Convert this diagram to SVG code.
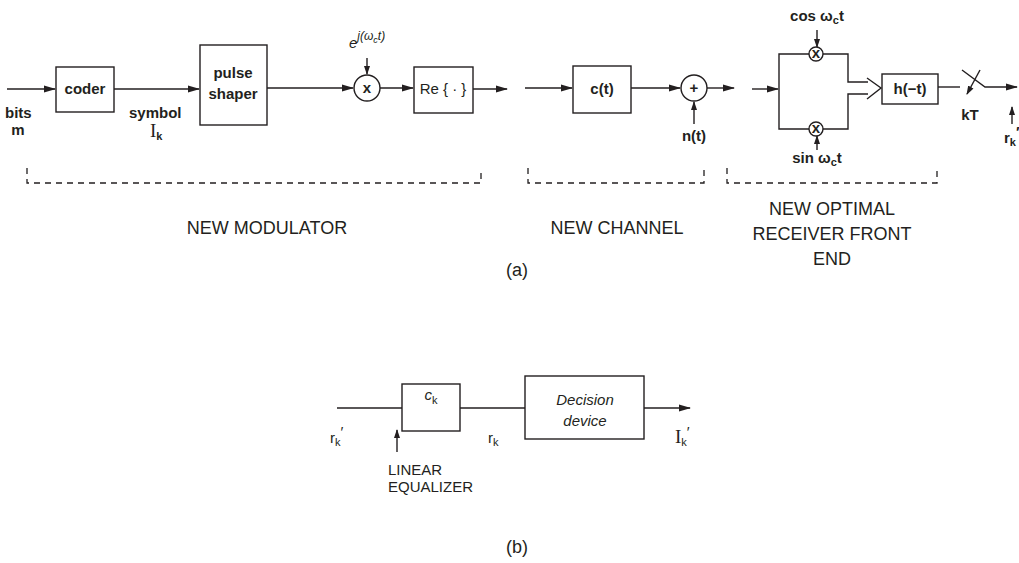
<svg xmlns="http://www.w3.org/2000/svg" width="1019" height="563" viewBox="0 0 1019 563">
<defs>
<marker id="arr" markerWidth="12" markerHeight="8" refX="11" refY="4" orient="auto" markerUnits="userSpaceOnUse">
<path d="M0,0.5 L12,4 L0,7.5 Z" fill="#231f20"/>
</marker>
<marker id="arrs" markerWidth="9" markerHeight="7" refX="8" refY="3.5" orient="auto" markerUnits="userSpaceOnUse">
<path d="M0,0.5 L9,3.5 L0,6.5 Z" fill="#231f20"/>
</marker>
<style>
.ln{stroke:#231f20;stroke-width:1.4;fill:none}
.bx{stroke:#231f20;stroke-width:1.4;fill:#fff}
.ds{stroke:#231f20;stroke-width:1.3;fill:none;stroke-dasharray:6,5}
.t{font-family:"Liberation Sans",Arial,sans-serif;font-weight:bold;font-size:15px;fill:#231f20}
.c{text-anchor:middle}
.g{font-family:"Liberation Sans",Arial,sans-serif;font-size:18px;fill:#231f20;text-anchor:middle}
.r{font-family:"Liberation Sans",Arial,sans-serif;font-size:15px;fill:#231f20}
.s{font-family:"Liberation Serif","Times New Roman",serif;font-size:19px;fill:#231f20}
.sub{font-size:11px}
</style>
</defs>

<g id="connectors">
<line class="ln" x1="7" y1="89" x2="55" y2="89" marker-end="url(#arr)"/>
<line class="ln" x1="114" y1="89" x2="199" y2="89" marker-end="url(#arr)"/>
<line class="ln" x1="267" y1="88" x2="353" y2="88" marker-end="url(#arr)"/>
<line class="ln" x1="367" y1="58" x2="367" y2="74" marker-end="url(#arrs)"/>
<line class="ln" x1="380" y1="88" x2="413" y2="88" marker-end="url(#arr)"/>
<line class="ln" x1="473" y1="89" x2="507" y2="89" marker-end="url(#arr)"/>
<line class="ln" x1="525" y1="88" x2="572" y2="88" marker-end="url(#arr)"/>
<line class="ln" x1="631" y1="88" x2="680" y2="88" marker-end="url(#arr)"/>
<line class="ln" x1="694" y1="124" x2="694" y2="102" marker-end="url(#arrs)"/>
<line class="ln" x1="707" y1="88" x2="734" y2="88" marker-end="url(#arr)"/>
<line class="ln" x1="752" y1="89" x2="778" y2="89" marker-end="url(#arr)"/>
<polyline class="ln" points="809,54 779,54 779,129 809,129"/>
<line class="ln" x1="817" y1="30" x2="817" y2="47" marker-end="url(#arrs)"/>
<line class="ln" x1="817" y1="150" x2="817" y2="136" marker-end="url(#arrs)"/>
<polyline class="ln" points="823,54 848,54 848,82 868,82"/>
<polyline class="ln" points="823,129 848,129 848,94 868,94"/>
<polyline class="ln" points="867,78 881,88 867,99"/>
<line class="ln" x1="938" y1="87" x2="960" y2="87"/>
<polyline class="ln" points="962,70 985,87 1017,87" marker-end="url(#arr)"/>
<line class="ln" x1="980" y1="70" x2="967" y2="94" marker-end="url(#arrs)"/>
<line class="ln" x1="1012" y1="124" x2="1012" y2="107" marker-end="url(#arrs)"/>
<polyline class="ds" points="27,168 27,183 481,183 481,168"/>
<polyline class="ds" points="528,168 528,183 704,183 704,168"/>
<polyline class="ds" points="727,168 727,183 937,183 937,168"/>
<line class="ln" x1="337" y1="408" x2="402" y2="408"/>
<line class="ln" x1="460" y1="408" x2="525" y2="408"/>
<line class="ln" x1="644" y1="408" x2="690" y2="408" marker-end="url(#arr)"/>
<line class="ln" x1="397" y1="452" x2="397" y2="430" marker-end="url(#arrs)"/>
</g>

<g id="coder">
<rect class="bx" x="56" y="67" width="58" height="45"/>
<text class="t c" x="85" y="94">coder</text>
</g>
<g id="bits">
<text class="t" x="5" y="118">bits</text>
<text class="t c" x="18" y="135">m</text>
</g>
<g id="symbol">
<text class="t" x="129" y="118">symbol</text>
<text class="s" x="150" y="137">I<tspan class="sub" font-family="Liberation Sans" font-weight="bold" dy="3">k</tspan></text>
</g>
<g id="pulse-shaper">
<rect class="bx" x="200" y="45" width="67" height="80"/>
<text class="t c" x="233" y="78">pulse</text>
<text class="t c" x="233" y="99">shaper</text>
</g>
<g id="mixer">
<circle class="bx" cx="367" cy="88" r="13"/>
<text class="t c" x="367" y="93">x</text>
<text class="r" x="349" y="48" font-size="17" font-style="italic">e<tspan font-size="12" dy="-8">j(ω</tspan><tspan font-size="9" dy="3">c</tspan><tspan font-size="12" dy="-3">t)</tspan></text>
</g>
<g id="re">
<rect class="bx" x="414" y="67" width="59" height="46"/>
<text class="r c" x="443" y="94" font-size="16">Re { · }</text>
</g>
<g id="channel">
<rect class="bx" x="573" y="66" width="58" height="47"/>
<text class="t c" x="602" y="94">c(t)</text>
</g>
<g id="adder">
<circle class="bx" cx="694" cy="88" r="13"/>
<text class="t c" x="694" y="93">+</text>
<text class="t c" x="694" y="141">n(t)</text>
</g>
<g id="mix-cos">
<circle class="bx" cx="816" cy="54" r="7"/>
<text class="t c" x="816" y="58" font-size="10">x</text>
<text class="t c" x="817" y="21">cos ω<tspan class="sub" dy="3">c</tspan><tspan dy="-3">t</tspan></text>
</g>
<g id="mix-sin">
<circle class="bx" cx="816" cy="129" r="7"/>
<text class="t c" x="816" y="133" font-size="10">x</text>
<text class="t c" x="817" y="163">sin ω<tspan class="sub" dy="3">c</tspan><tspan dy="-3">t</tspan></text>
</g>
<g id="matched-filter">
<rect class="bx" x="882" y="74" width="56" height="30"/>
<text class="t c" x="910" y="94">h(−t)</text>
</g>
<g id="sampler">
<text class="t c" x="970" y="120">kT</text>
<text class="t" x="1004" y="143">r<tspan class="sub" dy="3">k</tspan><tspan dy="-9">′</tspan></text>
</g>
<g id="labels-a">
<text class="g" x="267" y="234">NEW MODULATOR</text>
<text class="g" x="617" y="234">NEW CHANNEL</text>
<text class="g" x="832" y="215">NEW OPTIMAL</text>
<text class="g" x="832" y="240">RECEIVER FRONT</text>
<text class="g" x="832" y="265">END</text>
<text class="g" x="517" y="276">(a)</text>
</g>
<g id="equalizer">
<rect class="bx" x="402" y="384" width="58" height="47"/>
<text class="r c" x="431" y="400" font-size="16" font-style="italic">c<tspan class="sub" font-style="normal" dy="4">k</tspan></text>
<text class="r" x="330" y="443">r<tspan class="sub" dy="3">k</tspan><tspan dy="-9">′</tspan></text>
<text class="r" x="388" y="475">LINEAR</text>
<text class="r" x="388" y="492">EQUALIZER</text>
</g>
<g id="decision">
<rect class="bx" x="525" y="376" width="119" height="63"/>
<text class="r c" x="585" y="405" font-style="italic">Decision</text>
<text class="r c" x="585" y="426" font-style="italic">device</text>
<text class="r" x="488" y="443">r<tspan class="sub" dy="3">k</tspan></text>
<text class="s" x="675" y="443">I<tspan class="sub" font-family="Liberation Sans" dy="3">k</tspan><tspan font-family="Liberation Sans" font-size="15" dy="-9">′</tspan></text>
</g>
<g id="labels-b">
<text class="g" x="517" y="553">(b)</text>
</g>
</svg>
